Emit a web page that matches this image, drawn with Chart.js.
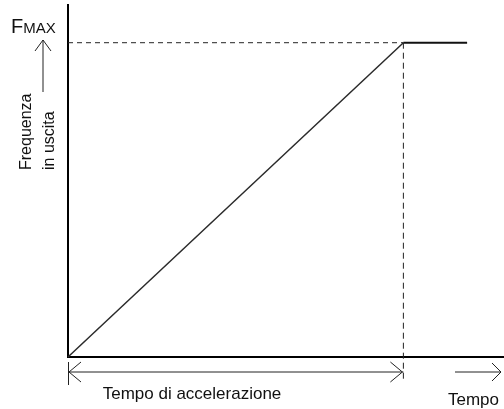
<!DOCTYPE html>
<html>
<head>
<meta charset="utf-8">
<script src="https://cdn.jsdelivr.net/npm/chart.js@4/dist/chart.umd.min.js"></script>
<style>
  html, body { margin: 0; padding: 0; background: #fff; }
  #wrap { width: 504px; height: 409px; position: relative; }
</style>
</head>
<body>
<div id="wrap"><canvas id="chart"></canvas></div>
<script>
// time in units of the acceleration time, frequency in units of FMAX
const rampTime = [0, 1];
const rampFreq = [0, 1];
const holdTime = [1, 1.19];
const holdFreq = [1, 1];
const fmaxGuideTime = [0, 1];
const fmaxGuideFreq = [1, 1];
const accelGuideTime = [1, 1];
const accelGuideFreq = [1, -0.07];

const labelFmax = 'FMAX';
const labelYTop = 'Frequenza';
const labelYBottom = 'in uscita';
const labelAccel = 'Tempo di accelerazione';
const labelTime = 'Tempo';

const FONT = '"Liberation Sans", Arial, sans-serif';
const toPoints = (xs, ys) => xs.map((x, i) => ({ x: x, y: ys[i] }));

function arrowHead(ctx, x, y, dir, len, half) {
    ctx.beginPath();
    if (dir === 'left') {
        ctx.moveTo(x + len, y - half); ctx.lineTo(x, y); ctx.lineTo(x + len, y + half);
    } else if (dir === 'right') {
        ctx.moveTo(x - len, y - half); ctx.lineTo(x, y); ctx.lineTo(x - len, y + half);
    } else {
        ctx.moveTo(x - half, y + len); ctx.lineTo(x, y); ctx.lineTo(x + half, y + len);
    }
    ctx.stroke();
}

const annotations = {
    id: 'annotations',
    afterDraw(chart) {
        const ctx = chart.ctx;
        const xs = chart.scales.x, ys = chart.scales.y;
        const x0 = xs.getPixelForValue(0);
        const x1 = xs.getPixelForValue(1);
        const yAxis = ys.getPixelForValue(0);
        const yArrow = yAxis + 15;
        ctx.save();
        ctx.strokeStyle = '#222';
        ctx.fillStyle = '#111';
        ctx.lineWidth = 1;

        // acceleration time span
        ctx.beginPath();
        ctx.moveTo(x0 + 0.5, yAxis + 5); ctx.lineTo(x0 + 0.5, yAxis + 28);
        ctx.moveTo(x0, yArrow); ctx.lineTo(x1, yArrow);
        ctx.stroke();
        arrowHead(ctx, x0 + 1, yArrow, 'left', 12, 10);
        arrowHead(ctx, x1 - 1, yArrow, 'right', 12, 10);

        // time direction arrow
        ctx.beginPath();
        ctx.moveTo(455, yArrow); ctx.lineTo(501, yArrow);
        ctx.stroke();
        arrowHead(ctx, 501, yArrow, 'right', 9, 9);

        // frequency direction arrow
        ctx.beginPath();
        ctx.moveTo(43, 92); ctx.lineTo(43, 40);
        ctx.stroke();
        arrowHead(ctx, 43, 40, 'up', 11, 8);

        ctx.textBaseline = 'alphabetic';
        ctx.font = '17px ' + FONT;
        ctx.textAlign = 'center';
        ctx.fillText(labelAccel, 192, 399);
        ctx.textAlign = 'left';
        ctx.fillText(labelTime, 448, 405);

        // FMAX with small capitals
        ctx.font = '20px ' + FONT;
        ctx.fillText(labelFmax[0], 11, 33);
        const w = ctx.measureText(labelFmax[0]).width;
        ctx.font = '15px ' + FONT;
        ctx.fillText(labelFmax.slice(1), 11 + w, 33);

        // rotated y label
        ctx.font = '16px ' + FONT;
        ctx.translate(0, 170);
        ctx.rotate(-Math.PI / 2);
        ctx.textAlign = 'left';
        ctx.fillText(labelYTop, 0, 31);
        ctx.fillText(labelYBottom, 0, 54);
        ctx.restore();
    }
};

new Chart(document.getElementById('chart'), {
    type: 'line',
    data: {
        datasets: [
            { data: toPoints(rampTime, rampFreq), borderColor: '#2a2a2a', borderWidth: 1.5, pointRadius: 0, clip: false },
            { data: toPoints(holdTime, holdFreq), borderColor: '#111', borderWidth: 2, pointRadius: 0, clip: false },
            { data: toPoints(fmaxGuideTime, fmaxGuideFreq), borderColor: '#222', borderWidth: 1, borderDash: [5, 4], pointRadius: 0, clip: false },
            { data: toPoints(accelGuideTime, accelGuideFreq), borderColor: '#222', borderWidth: 1, borderDash: [6, 4], pointRadius: 0, clip: false }
        ]
    },
    options: {
        responsive: true,
        maintainAspectRatio: false,
        animation: false,
        layout: { padding: { left: 60, top: 5, right: 0, bottom: 44 } },
        plugins: { legend: { display: false }, tooltip: { enabled: false } },
        scales: {
            x: {
                type: 'linear', min: 0, max: 1.3,
                grid: { display: false },
                ticks: { display: false },
                border: { display: true, color: '#000', width: 2 }
            },
            y: {
                type: 'linear', min: 0, max: 1.12,
                grid: { display: false },
                ticks: { display: false },
                border: { display: true, color: '#000', width: 2 }
            }
        }
    },
    plugins: [annotations]
});
</script>
</body>
</html>
